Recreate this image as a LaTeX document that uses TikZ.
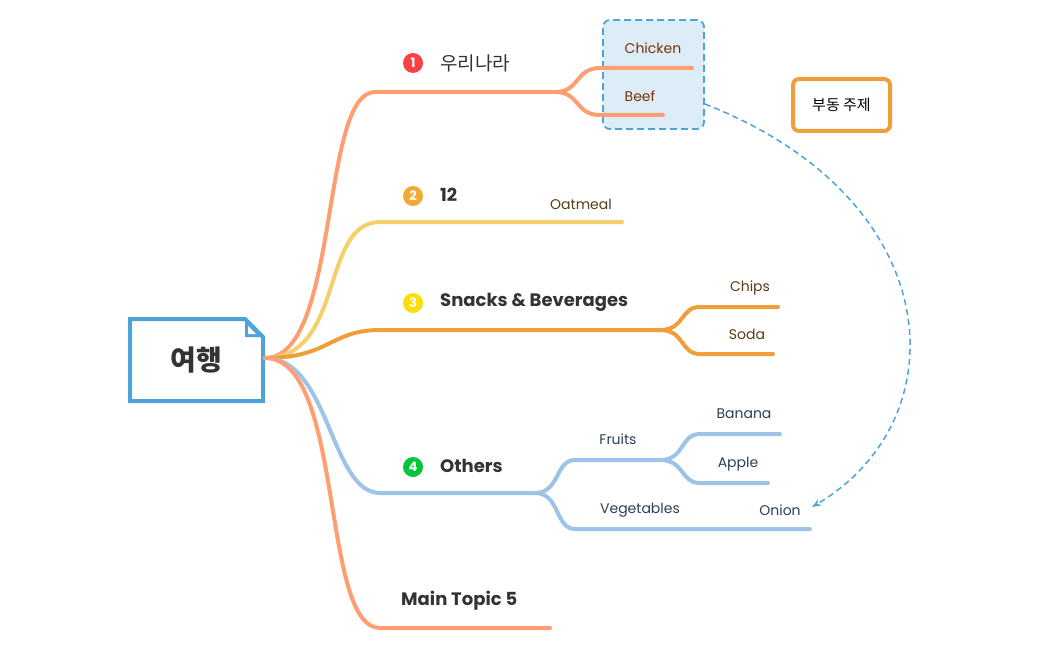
\documentclass[tikz,border=0pt]{standalone}
\usepackage{fontspec}
\setmainfont{Poppins}
\newfontfamily\kr{Noto Sans CJK KR}
\usetikzlibrary{arrows.meta}
\definecolor{salmon}{HTML}{FF9E73}
\definecolor{yel}{HTML}{F5CF6E}
\definecolor{ora}{HTML}{F09E3A}
\definecolor{blu}{HTML}{9DC3E6}
\definecolor{bbox}{HTML}{4EA3D8}
\definecolor{brn}{HTML}{5A3A10}
\definecolor{dk}{HTML}{333333}
\definecolor{nav}{HTML}{2A3F55}
\begin{document}
\begin{tikzpicture}[x=1pt,y=-1pt,
 br/.style={line width=4pt,line cap=round},
 lab/.style={font=\fontsize{18}{20}\selectfont\bfseries,text=dk,anchor=west,inner sep=0pt},
 sub/.style={font=\fontsize{14}{16}\selectfont,anchor=center},
 num/.style={circle,inner sep=0pt,minimum size=20pt,text=white,font=\fontsize{13}{13}\selectfont\bfseries}]
\useasboundingbox (0,0) rectangle (1049,650);
% boundary
\node[draw=bbox,dash pattern=on 7pt off 4pt,line width=1.8pt,fill=bbox!20,rounded corners=7pt,minimum width=101pt,minimum height=109pt] (bd) at (653.5,74.5) {};
% root
\draw[bbox,line width=4pt,fill=white] (130,319) -- (245,319) -- (263,337) -- (263,401) -- (130,401) -- cycle;
\fill[bbox] (245,319) -- (263,337) -- (245,337) -- cycle;
\fill[white] (248,326) -- (256,334) -- (248,334) -- cycle;
\node[font=\kr\fontsize{28}{30}\selectfont\bfseries,text=dk] (root) at (196,360) {여행};
\coordinate (o) at (265,358);
% branch 1
\coordinate (b1) at (375,92); \coordinate (b1e) at (555,92);
\coordinate (c1) at (600,68); \coordinate (c1e) at (692,68);
\coordinate (c2) at (600,115); \coordinate (c2e) at (663,115);
\draw[br,salmon] (o) .. controls (340,358) and (320,92) .. (b1) -- (b1e);
\draw[br,salmon] (b1e) .. controls (580,92) and (575,68) .. (c1) -- (c1e);
\draw[br,salmon] (b1e) .. controls (580,92) and (575,115) .. (c2) -- (c2e);
\node[num,fill=red!75!white] (n1) at (413,63) {1};
\node[lab,font=\kr\fontsize{19}{21}\selectfont] (l1) at (440,63) {우리나라};
\node[sub,text=brn!80!red] (t1) at (653,48) {Chicken};
\node[sub,text=brn!80!red] (t2) at (640,96) {Beef};
% branch 2
\coordinate (b2) at (380,222); \coordinate (b2e) at (622,222);
\draw[br,yel] (o) .. controls (345,358) and (320,222) .. (b2) -- (b2e);
\node[num,fill=ora!90!yellow] (n2) at (413,196) {2};
\node[lab] (l2) at (440,195) {12};
\node[sub,text=brn] (t3) at (581,204) {Oatmeal};
% branch 3
\coordinate (b3) at (380,330); \coordinate (b3e) at (660,330);
\coordinate (d1) at (700,307); \coordinate (d1e) at (778,307);
\coordinate (d2) at (700,354); \coordinate (d2e) at (773,354);
\draw[br,ora] (o) .. controls (330,358) and (330,330) .. (b3) -- (b3e);
\draw[br,ora] (b3e) .. controls (685,330) and (680,307) .. (d1) -- (d1e);
\draw[br,ora] (b3e) .. controls (685,330) and (680,354) .. (d2) -- (d2e);
\node[num,fill=yellow!80!orange] (n3) at (413,303) {3};
\node[lab] (l3) at (440,302) {Snacks \& Beverages};
\node[sub,text=brn] (t4) at (750,288) {Chips};
\node[sub,text=brn] (t5) at (747,334) {Soda};
% branch 4
\coordinate (b4) at (380,493); \coordinate (b4e) at (535,493);
\coordinate (f1) at (575,460); \coordinate (f1e) at (660,460);
\coordinate (g1) at (700,434); \coordinate (g1e) at (780,434);
\coordinate (g2) at (700,483); \coordinate (g2e) at (768,483);
\coordinate (f2) at (575,529); \coordinate (f2e) at (810,529);
\draw[br,blu] (o) .. controls (330,358) and (330,493) .. (b4) -- (b4e);
\draw[br,blu] (b4e) .. controls (560,493) and (555,460) .. (f1) -- (f1e);
\draw[br,blu] (b4e) .. controls (560,493) and (555,529) .. (f2) -- (f2e);
\draw[br,blu] (f1e) .. controls (685,460) and (680,434) .. (g1) -- (g1e);
\draw[br,blu] (f1e) .. controls (685,460) and (680,483) .. (g2) -- (g2e);
\node[num,fill=green!55!teal] (n4) at (413,467) {4};
\node[lab] (l4) at (440,466) {Others};
\node[sub,text=nav] (t6) at (618,439) {Fruits};
\node[sub,text=nav] (t7) at (744,414) {Banana};
\node[sub,text=nav] (t8) at (738,464) {Apple};
\node[sub,text=nav] (t9) at (640,510) {Vegetables};
\node[sub,text=nav] (t10) at (780,510) {Onion};
% branch 5
\coordinate (b5) at (380,628); \coordinate (b5e) at (550,628);
\draw[br,salmon] (o) .. controls (345,358) and (320,628) .. (b5) -- (b5e);
\node[lab] (l5) at (401,601) {Main Topic 5};
% floating topic
\node[draw=ora,line width=4pt,rounded corners=6pt,minimum width=97pt,minimum height=52pt,font=\kr\fontsize{15}{17}\selectfont,text=black] (ft) at (841.5,105) {부동 주제};
% relationship
\coordinate (onion) at (812,507);
\draw[bbox,line width=1.5pt,dash pattern=on 6pt off 4pt,-{Stealth[length=9pt]}] (bd.east |- 0,104) .. controls (950,200) and (960,420) .. (onion);
\end{tikzpicture}
\end{document}
